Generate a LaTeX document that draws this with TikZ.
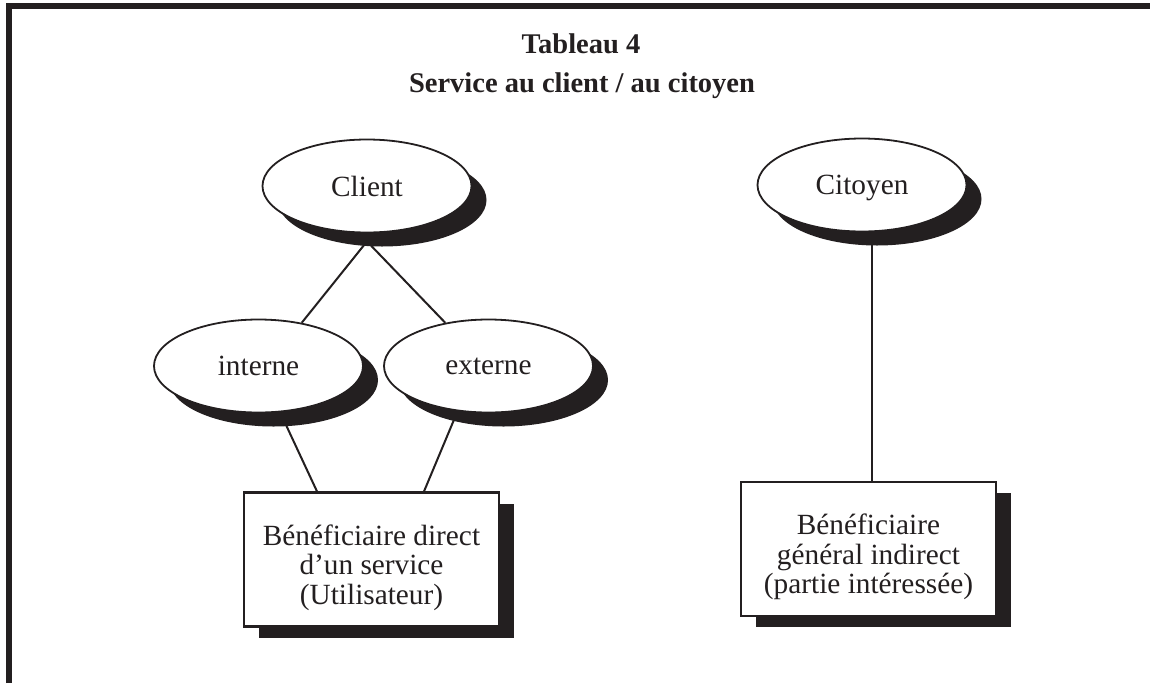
\documentclass[tikz,border=0pt]{standalone}
\usepackage{fontspec}
\setmainfont{Liberation Serif}
\usetikzlibrary{shapes.geometric,shadows,backgrounds,calc}
\definecolor{ink}{HTML}{231F20}
% extra height above the first line pushes the card text a little lower
\newcommand\boxstrut{\rule{0pt}{37pt}}
\begin{document}
\begin{tikzpicture}[x=1pt,y=-1pt,
  every node/.style={font=\fontsize{29.3}{29.5}\selectfont, text=ink},
  heading/.style={font=\bfseries\fontsize{28.5}{29}\selectfont, anchor=base},
  oval/.style={ellipse, draw=ink, line width=1.8pt, fill=white, inner sep=0pt,
    text depth=0pt, minimum width=209pt, minimum height=93pt,
    general shadow={fill=ink, shadow xshift=15pt, shadow yshift=-14pt}},
  card/.style={rectangle, draw=ink, line width=2.2pt, fill=white,
    minimum width=255pt, minimum height=134pt, align=center,
    general shadow={fill=ink, shadow xshift=15pt, shadow yshift=-11pt}},
  link/.style={draw=ink, line width=2pt}]

\useasboundingbox (0,0) rectangle (1150,683);

% page frame: top and left rules
\draw[ink, line width=6pt, line join=miter] (8.5,683) -- (8.5,6) -- (1150,6);

% headings
\node[heading] (title) at (581,53) {Tableau 4};
\node[heading] (subtitle) at (582,92) {Service au client / au citoyen};

% ovals
\node[oval] (client)  at (367,186)   {Client};
\node[oval] (citoyen) at (862,185)   {Citoyen};
\node[oval] (interne) at (258.5,366) {interne};
\node[oval] (externe) at (488.5,366) {externe};

% beneficiary cards
\node[card] (direct)  at (371.5,559.5) {\boxstrut Bénéficiaire direct\\d’un service\\(Utilisateur)};
\node[card] (general) at (868.5,549)   {\boxstrut Bénéficiaire\\général indirect\\(partie intéressée)};

% connectors, kept below the shapes and their shadows
\begin{scope}[on background layer]
  \coordinate (apex) at ([yshift=-8pt]client.south);
  \draw[link] (apex) -- (interne.45);
  \draw[link] (apex) -- (externe.135);
  \draw[link] (interne.center) -- ([xshift=-54.5pt]direct.north);
  \draw[link] ([xshift=-12pt]externe.center) -- ([xshift=52.5pt]direct.north);
  \coordinate (drop) at ([xshift=3.5pt]general.north);
  \draw[link] (drop) -- (drop |- citoyen.center);
\end{scope}
\end{tikzpicture}
\end{document}
